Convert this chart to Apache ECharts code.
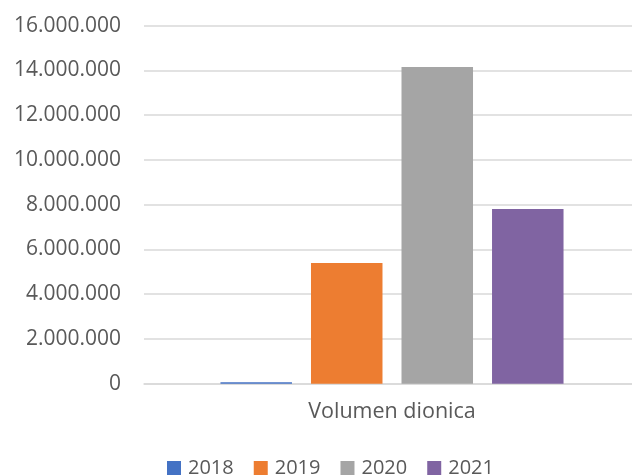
<!DOCTYPE html>
<html><head><meta charset="utf-8">
<script src="https://cdn.jsdelivr.net/npm/echarts@6/dist/echarts.min.js"></script>
<style>html,body{margin:0;padding:0;background:#fff;overflow:hidden}#c{width:660px;height:475px}</style>
</head><body><div id="c"></div>
<script>
const categories = ['Volumen dionica'];
const seriesNames = ['2018', '2019', '2020', '2021'];
const values2018 = [70000];
const values2019 = [5390000];
const values2020 = [14150000];
const values2021 = [7810000];
const colors = ['#4472C4', '#ED7D31', '#A5A5A5', '#8064A2'];

const allValues = [values2018, values2019, values2020, values2021];
const FONT = 'Open Sans';
function fmt(v){ return String(v).replace(/\B(?=(\d{3})+(?!\d))/g, '.'); }

const chart = echarts.init(document.getElementById('c'), null, {renderer:'canvas'});
chart.setOption({
  animation: false,
  backgroundColor: '#fff',
  textStyle: {fontFamily: FONT},
  grid: {left: 144, width: 496, top: 25.7, height: 358, containLabel: false},
  legend: {
    data: seriesNames, left: 167, top: 458, padding: 0, itemWidth: 14, itemHeight: 14, itemGap: 20,
    icon: 'rect',
    textStyle: {fontFamily: FONT, fontSize: 20, color: '#595959', padding: [0,0,0,2]}
  },
  xAxis: {
    type: 'category', data: categories,
    axisLine: {lineStyle: {color: '#d9d9d9', width: 1.5}},
    axisTick: {show: false},
    axisLabel: {fontFamily: FONT, fontSize: 21.5, color: '#595959', margin: 17}
  },
  yAxis: {
    type: 'value', min: 0, max: 16000000, interval: 2000000,
    axisLine: {show: false}, axisTick: {show: false},
    splitLine: {lineStyle: {color: '#d9d9d9', width: 1.5}},
    axisLabel: {fontFamily: FONT, fontSize: 21, color: '#595959', margin: 23, formatter: fmt}
  },
  series: seriesNames.map((n, i) => ({
    name: n, type: 'bar', data: allValues[i], barWidth: 71.5, barGap: '26.6%',
    itemStyle: {color: colors[i]}
  }))
});
</script></body></html>
